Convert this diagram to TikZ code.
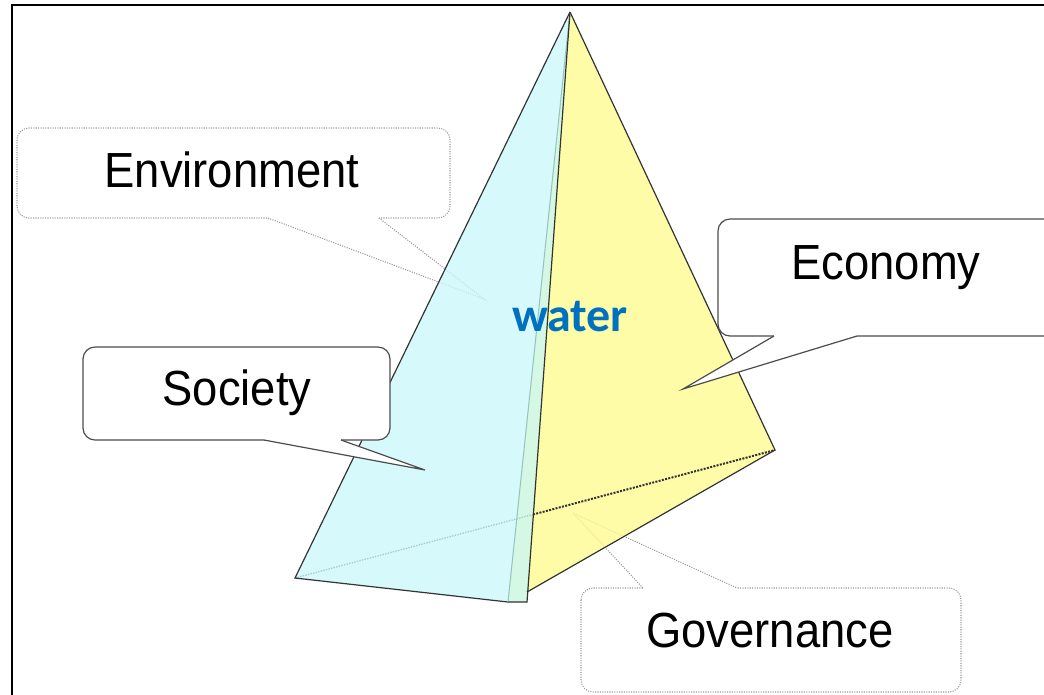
\documentclass[tikz,border=0pt]{standalone}
\usepackage{fontspec}
\setmainfont{Liberation Sans}
\newfontfamily\waterfont{Carlito}
\definecolor{cyanfill}{HTML}{CCF9FA}
\definecolor{yellowfill}{HTML}{FFFB92}
\definecolor{mintfill}{HTML}{C9F6DD}
\definecolor{waterblue}{HTML}{0070C0}
\definecolor{lightedge}{HTML}{98C4C0}
\definecolor{lightdot}{HTML}{A0CCCC}
\begin{document}
\begin{tikzpicture}[x=0.75pt,y=-0.75pt]
\tikzset{
  hidbox/.style={draw=black!40, densely dotted, line width=0.8pt, fill=white},
  hidline/.style={draw=black!40, densely dotted, line width=0.8pt},
  solbox/.style={draw=black!70, line width=0.9pt, fill=white},
  solline/.style={draw=black!70, line width=0.9pt},
  lbl/.style={font=\fontsize{37}{40}\selectfont, anchor=base, inner sep=0pt},
  facefill/.style={fill opacity=0.8},
  edgeline/.style={draw=black!80, line width=0.9pt},
}
\useasboundingbox (0,0) rectangle (1044,694);
\clip (0,0) rectangle (1044,694);

% vertices
\coordinate (A) at (570,12);
\coordinate (L) at (295,578);
\coordinate (F1) at (508,602);
\coordinate (F2) at (527,602);
\coordinate (F3) at (527,592);
\coordinate (R) at (775,450);
\coordinate (I) at (533,514.5);

% hidden callouts (behind)
\draw[hidbox, rounded corners=9pt] (17,128) rectangle (450,218);
\coordinate (envT1) at (268,218);
\coordinate (envT2) at (379,218);
\coordinate (envTip) at (484,299);
\fill[white] (268,215) -- (envT1) -- (envTip) -- (envT2) -- (379,215) -- cycle;
\draw[hidline] (envT1) -- (envTip) -- (envT2);

\draw[hidbox, rounded corners=9pt] (581,588) rectangle (961,692);
\coordinate (govT1) at (643,588);
\coordinate (govT2) at (737,588);
\coordinate (govTip) at (573,513);
\fill[white] (643,591) -- (govT1) -- (govTip) -- (govT2) -- (737,591) -- cycle;
\draw[hidline] (govT1) -- (govTip) -- (govT2);

% faces
\fill[yellowfill, facefill] (A) -- (F3) -- (R) -- cycle;
\fill[mintfill, facefill] (A) -- (F1) -- (F2) -- cycle;
\fill[cyanfill, facefill] (A) -- (L) -- (F1) -- cycle;

% edges
\draw[densely dotted, draw=lightdot, line width=1pt] (L) -- (I);
\draw[densely dotted, draw=black!80, line width=1.5pt] (I) -- (R);
\draw[edgeline] (F1) -- (L) -- (A);
\draw[draw=lightedge, line width=0.8pt] (A) -- (F1);
\draw[edgeline] (A) -- (F2) -- (F1);
\draw[edgeline] (A) -- (R) -- (F3);

% front callouts
\draw[solbox, rounded corners=9pt] (83,347) rectangle (390,440);
\coordinate (socT1) at (264,440);
\coordinate (socT2) at (341,440);
\coordinate (socTip) at (425,470);
\fill[white] (264,437) -- (socT1) -- (socTip) -- (socT2) -- (341,437) -- cycle;
\draw[solline] (socT1) -- (socTip) -- (socT2);

\draw[solbox, rounded corners=9pt] (718,219) rectangle (1060,336);
\coordinate (ecoT1) at (774,336);
\coordinate (ecoT2) at (857,336);
\coordinate (ecoTip) at (683,389);
\fill[white] (774,333) -- (ecoT1) -- (ecoTip) -- (ecoT2) -- (857,333) -- cycle;
\draw[solline] (ecoT1) -- (ecoTip) -- (ecoT2);

% labels
\node[lbl] (env) at (232,187) {\scalebox{0.92}[1]{Environment}};
\node[lbl] (soc) at (237,405) {\scalebox{0.92}[1]{Society}};
\node[lbl] (eco) at (886,279) {\scalebox{0.92}[1]{Economy}};
\node[lbl] (gov) at (770,647) {\scalebox{0.92}[1]{Governance}};
\node[font=\waterfont\bfseries\fontsize{36}{38}\selectfont, text=waterblue, anchor=base, inner sep=0pt] (water) at (570,331) {water};

% frame
\draw[line width=1.5pt] (12,700) -- (12,5) -- (1050,5);
\end{tikzpicture}
\end{document}
